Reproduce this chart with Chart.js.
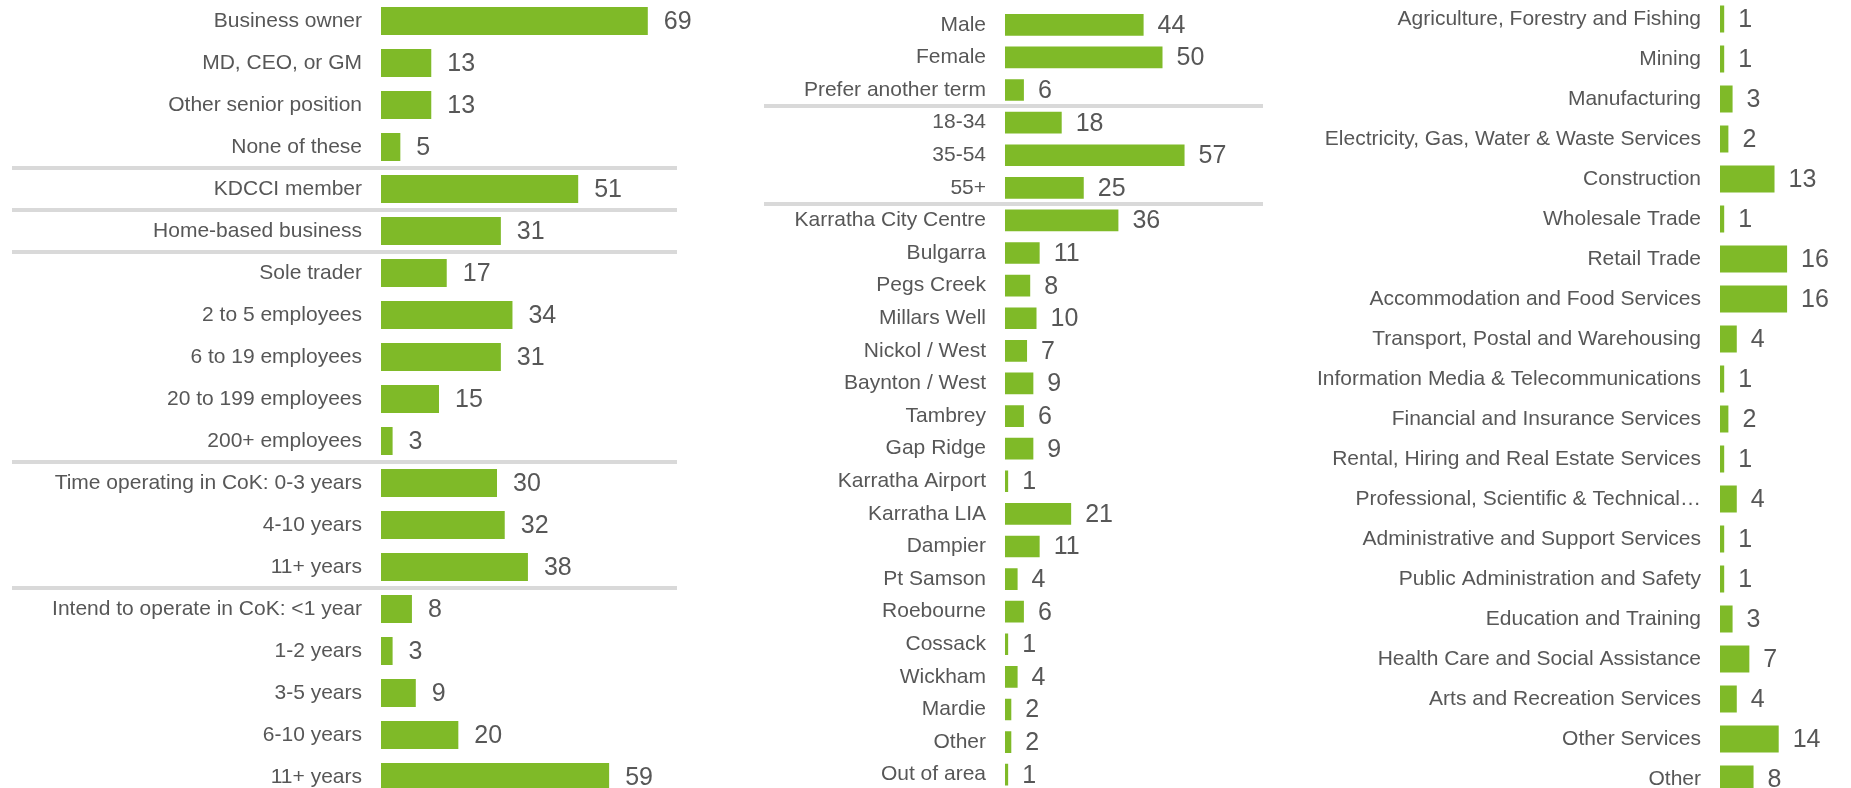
<!DOCTYPE html>
<html>
<head>
<meta charset="utf-8">
<script src="https://cdn.jsdelivr.net/npm/chart.js@4.4.1/dist/chart.umd.min.js"></script>
<style>
  html, body { margin: 0; padding: 0; background: #ffffff; overflow: hidden; width: 1851px; height: 788px; }
  canvas { position: absolute; }
</style>
</head>
<body>
<canvas id="c1" width="729" height="798" style="left:0px;top:0px"></canvas>
<canvas id="c2" width="530" height="791" style="left:740px;top:0px"></canvas>
<canvas id="c3" width="580" height="800" style="left:1270px;top:-1px"></canvas>
<script>
// ---- Data ----
const profileLabels = ["Business owner", "MD, CEO, or GM", "Other senior position", "None of these",
  "KDCCI member", "Home-based business", "Sole trader", "2 to 5 employees", "6 to 19 employees",
  "20 to 199 employees", "200+ employees", "Time operating in CoK: 0-3 years", "4-10 years", "11+ years",
  "Intend to operate in CoK: <1 year", "1-2 years", "3-5 years", "6-10 years", "11+ years"];
const profileValues = [69, 13, 13, 5, 51, 31, 17, 34, 31, 15, 3, 30, 32, 38, 8, 3, 9, 20, 59];
const profileSeparatorsAfter = [3, 4, 5, 10, 13];

const demoLabels = ["Male", "Female", "Prefer another term", "18-34", "35-54", "55+",
  "Karratha City Centre", "Bulgarra", "Pegs Creek", "Millars Well", "Nickol / West", "Baynton / West",
  "Tambrey", "Gap Ridge", "Karratha Airport", "Karratha LIA", "Dampier", "Pt Samson", "Roebourne",
  "Cossack", "Wickham", "Mardie", "Other", "Out of area"];
const demoValues = [44, 50, 6, 18, 57, 25, 36, 11, 8, 10, 7, 9, 6, 9, 1, 21, 11, 4, 6, 1, 4, 2, 2, 1];
const demoSeparatorsAfter = [2, 5];

const industryLabels = ["Agriculture, Forestry and Fishing", "Mining", "Manufacturing",
  "Electricity, Gas, Water & Waste Services", "Construction", "Wholesale Trade", "Retail Trade",
  "Accommodation and Food Services", "Transport, Postal and Warehousing",
  "Information Media & Telecommunications", "Financial and Insurance Services",
  "Rental, Hiring and Real Estate Services", "Professional, Scientific & Technical\u2026",
  "Administrative and Support Services", "Public Administration and Safety", "Education and Training",
  "Health Care and Social Assistance", "Arts and Recreation Services", "Other Services", "Other"];
const industryValues = [1, 1, 3, 2, 13, 1, 16, 16, 4, 1, 2, 1, 4, 1, 1, 3, 7, 4, 14, 8];
const industrySeparatorsAfter = [];

// ---- Styles ----
const GREEN = '#7fba28';
const TEXT = '#575757';
const SEP = '#d9d9d9';
const FONT = "'Liberation Sans', Arial, Helvetica, sans-serif";

const valueLabelPlugin = {
  id: 'valueLabels',
  afterDatasetsDraw(chart, args, opts) {
    const ctx = chart.ctx;
    const meta = chart.getDatasetMeta(0);
    const data = chart.data.datasets[0].data;
    ctx.save();
    ctx.fillStyle = opts.color;
    ctx.font = opts.size + 'px ' + FONT;
    ctx.textAlign = 'left';
    ctx.textBaseline = 'middle';
    meta.data.forEach((el, i) => {
      ctx.fillText(String(data[i]), el.x + opts.gap, el.y + 1);
    });
    ctx.restore();
  }
};

const separatorPlugin = {
  id: 'separators',
  beforeDatasetsDraw(chart, args, opts) {
    const list = opts.after || [];
    if (!list.length) return;
    const y = chart.scales.y;
    const ctx = chart.ctx;
    ctx.save();
    ctx.strokeStyle = opts.color;
    ctx.lineWidth = opts.width;
    list.forEach(i => {
      const py = Math.round((y.getPixelForValue(i) + y.getPixelForValue(i + 1)) / 2);
      ctx.beginPath();
      ctx.moveTo(opts.from, py);
      ctx.lineTo(opts.to, py);
      ctx.stroke();
    });
    ctx.restore();
  }
};

function makeChart(id, labels, values, seps, cfg) {
  return new Chart(document.getElementById(id), {
    type: 'bar',
    data: {
      labels: labels,
      datasets: [{
        data: values,
        backgroundColor: GREEN,
        borderWidth: 0,
        barPercentage: cfg.barPct,
        categoryPercentage: 1.0
      }]
    },
    options: {
      indexAxis: 'y',
      responsive: false,
      animation: false,
      events: [],
      layout: { padding: { top: cfg.padTop, bottom: 0, left: 0, right: cfg.padRight } },
      plugins: {
        legend: { display: false },
        tooltip: { enabled: false },
        title: { display: false },
        valueLabels: { color: TEXT, size: 25, gap: cfg.gap },
        separators: { after: seps, color: SEP, width: 4, from: cfg.sepFrom, to: cfg.sepTo }
      },
      scales: {
        x: { display: false, min: 0, max: cfg.xMax },
        y: {
          grid: { display: false, drawTicks: false },
          border: { display: false },
          ticks: {
            autoSkip: false,
            padding: 19,
            color: TEXT,
            font: { family: FONT, size: 21 }
          },
          afterFit(scale) {
            scale.width = cfg.axisWidth;
            scale.paddingTop = 0;
            scale.paddingBottom = 0;
          }
        }
      }
    },
    plugins: [separatorPlugin, valueLabelPlugin]
  });
}

makeChart('c1', profileLabels, profileValues, profileSeparatorsAfter,
  { barPct: 0.667, padTop: 0, padRight: 0, gap: 16, xMax: 90, axisWidth: 381, sepFrom: 12, sepTo: 677 });
makeChart('c2', demoLabels, demoValues, demoSeparatorsAfter,
  { barPct: 0.665, padTop: 8.5, padRight: 13, gap: 14, xMax: 80, axisWidth: 265, sepFrom: 24, sepTo: 523 });
makeChart('c3', industryLabels, industryValues, industrySeparatorsAfter,
  { barPct: 0.675, padTop: 0, padRight: 0, gap: 14, xMax: 31, axisWidth: 450, sepFrom: 0, sepTo: 0 });
</script>
</body>
</html>
